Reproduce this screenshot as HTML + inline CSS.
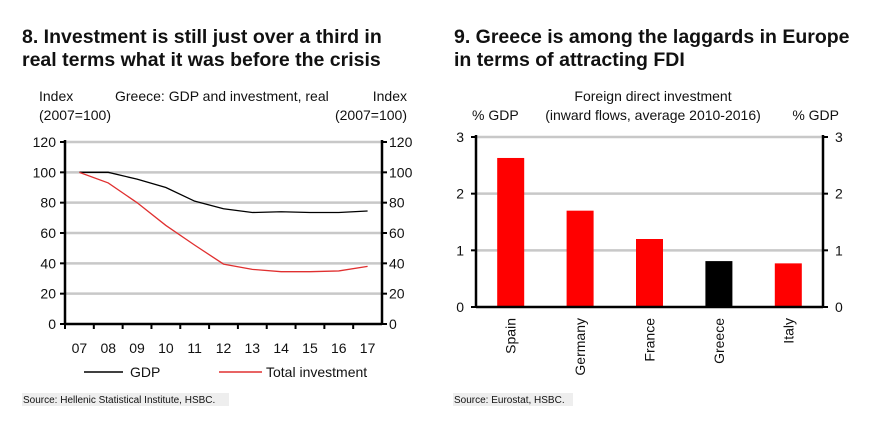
<!DOCTYPE html>
<html><head><meta charset="utf-8"><style>
html,body{margin:0;padding:0;background:#fff;}
svg{display:block;font-family:"Liberation Sans",Arial,sans-serif;}
</style></head><body>
<svg id="s" width="877" height="440" viewBox="0 0 877 440">
<g font-weight="bold" font-size="19.5" fill="#111">
<text x="22" y="43">8. Investment is still just over a third in</text>
<text x="22" y="66">real terms what it was before the crisis</text></g>
<g font-size="14" fill="#111">
<text x="39" y="101">Index</text><text x="39" y="120">(2007=100)</text>
<text x="115" y="101">Greece: GDP and investment, real</text>
<text x="407" y="101" text-anchor="end">Index</text><text x="407" y="120" text-anchor="end">(2007=100)</text></g>
<g id="lc"></g>
<g font-size="14" fill="#111">
<line x1="84" y1="372" x2="123" y2="372" stroke="#000" stroke-width="1.5"/><text x="130" y="377">GDP</text>
<line x1="219" y1="372" x2="262" y2="372" stroke="#e03030" stroke-width="1.5"/><text x="266" y="377">Total investment</text></g>
<rect x="22" y="393" width="207" height="13" fill="#eee"/>
<text x="23" y="403" font-size="10" fill="#111">Source: Hellenic Statistical Institute, HSBC.</text>

<g font-weight="bold" font-size="19.5" fill="#111">
<text x="454" y="43">9. Greece is among the laggards in Europe</text>
<text x="454" y="66">in terms of attracting FDI</text></g>
<g font-size="14" fill="#111">
<text x="653" y="101" text-anchor="middle">Foreign direct investment</text>
<text x="653" y="120" text-anchor="middle">(inward flows, average 2010-2016)</text>
<text x="472" y="120">% GDP</text><text x="839" y="120" text-anchor="end">% GDP</text></g>
<g id="bc"></g>
<rect x="453" y="393" width="120" height="13" fill="#eee"/>
<text x="454" y="403" font-size="10" fill="#111">Source: Eurostat, HSBC.</text>
</svg>
<script>
const years=["07","08","09","10","11","12","13","14","15","16","17"];
const gdp=[100,100,95.5,90,81,76,73.5,74,73.5,73.5,74.5];
const inv=[100,93,80,65,52,39.5,36,34.5,34.5,35,38];
const yTicks=[0,20,40,60,80,100,120];
const countries=["Spain","Germany","France","Greece","Italy"];
const fdi=[2.63,1.70,1.20,0.81,0.77];
const fdiTicks=[0,1,2,3];

const NS="http://www.w3.org/2000/svg";
function mk(p,t,a){const e=document.createElementNS(NS,t);for(const k in a)e.setAttribute(k,a[k]);p.appendChild(e);return e;}
// line chart
const lc=document.getElementById('lc');
const L0=65,L1=382,T0=142,B0=324;
const ly=v=>B0-(v/120)*(B0-T0);
const step=(L1-L0)/years.length;
const lx=i=>L0+step*(i+0.5);
yTicks.forEach(v=>{
 if(v>0){const g=mk(lc,'line',{x1:L0,x2:L1,y1:ly(v),y2:ly(v),stroke:'#c8c8c8','stroke-width':2.5});
 
 }
 const a=mk(lc,'text',{x:L0-9,y:ly(v)+5,'text-anchor':'end','font-size':14,fill:'#111'});a.textContent=v;
 
 
 const b=mk(lc,'text',{x:L1+7,y:ly(v)+5,'font-size':14,fill:'#111'});b.textContent=v;
 
 
 mk(lc,'line',{x1:L0-5,x2:L0,y1:ly(v),y2:ly(v),stroke:'#000','stroke-width':2});
 mk(lc,'line',{x1:L1,x2:L1+5,y1:ly(v),y2:ly(v),stroke:'#000','stroke-width':2});
});
mk(lc,'line',{x1:L0,x2:L0,y1:T0-2,y2:B0,stroke:'#000','stroke-width':2.5});
mk(lc,'line',{x1:L1,x2:L1,y1:T0-2,y2:B0,stroke:'#000','stroke-width':2.5});
mk(lc,'line',{x1:L0,x2:L1,y1:B0,y2:B0,stroke:'#000','stroke-width':2.5});
years.forEach((y,i)=>{
 mk(lc,'line',{x1:L0+step*i,x2:L0+step*i,y1:B0,y2:B0+5,stroke:'#000','stroke-width':2});
 const t=mk(lc,'text',{x:lx(i),y:B0+29,'text-anchor':'middle','font-size':14,fill:'#111'});t.textContent=y;
 
 
});
const pg=mk(lc,'polyline',{points:gdp.map((v,i)=>lx(i)+','+ly(v)).join(' '),fill:'none',stroke:'#000','stroke-width':1.3});


const pi=mk(lc,'polyline',{points:inv.map((v,i)=>lx(i)+','+ly(v)).join(' '),fill:'none',stroke:'#e03030','stroke-width':1.3});



// bar chart
const bc=document.getElementById('bc');
const R0=476,R1=823,RT=137,RB=307;
const by=v=>RB-(v/3)*(RB-RT);
const bs=(R1-R0)/countries.length;
fdiTicks.forEach(v=>{
 if(v>0){const g=mk(bc,'line',{x1:R0,x2:R1,y1:by(v),y2:by(v),stroke:'#c8c8c8','stroke-width':2.5});
 
 }
 const a=mk(bc,'text',{x:R0-12,y:by(v)+5,'text-anchor':'end','font-size':14,fill:'#111'});a.textContent=v;
 
 
 const b=mk(bc,'text',{x:R1+12,y:by(v)+5,'font-size':14,fill:'#111'});b.textContent=v;
 
 
 mk(bc,'line',{x1:R0-5,x2:R0,y1:by(v),y2:by(v),stroke:'#000','stroke-width':2});
 mk(bc,'line',{x1:R1,x2:R1+5,y1:by(v),y2:by(v),stroke:'#000','stroke-width':2});
});
countries.forEach((c,i)=>{
 const cx=R0+bs*(i+0.5);
 const r=mk(bc,'rect',{x:cx-13.5,y:by(fdi[i]),width:27,height:RB-by(fdi[i]),fill:c==='Greece'?'#000':'#ff0000'});
 
 
 const t=mk(bc,'text',{x:0,y:0,'text-anchor':'end','font-size':14,fill:'#111',transform:`translate(${cx+5},${RB+11}) rotate(-90)`});t.textContent=c;
 
 
});
mk(bc,'line',{x1:R0,x2:R0,y1:RT-2,y2:RB,stroke:'#000','stroke-width':2.5});
mk(bc,'line',{x1:R1,x2:R1,y1:RT-2,y2:RB,stroke:'#000','stroke-width':2.5});
mk(bc,'line',{x1:R0,x2:R1,y1:RB,y2:RB,stroke:'#000','stroke-width':2.5});
</script>
</body></html>
